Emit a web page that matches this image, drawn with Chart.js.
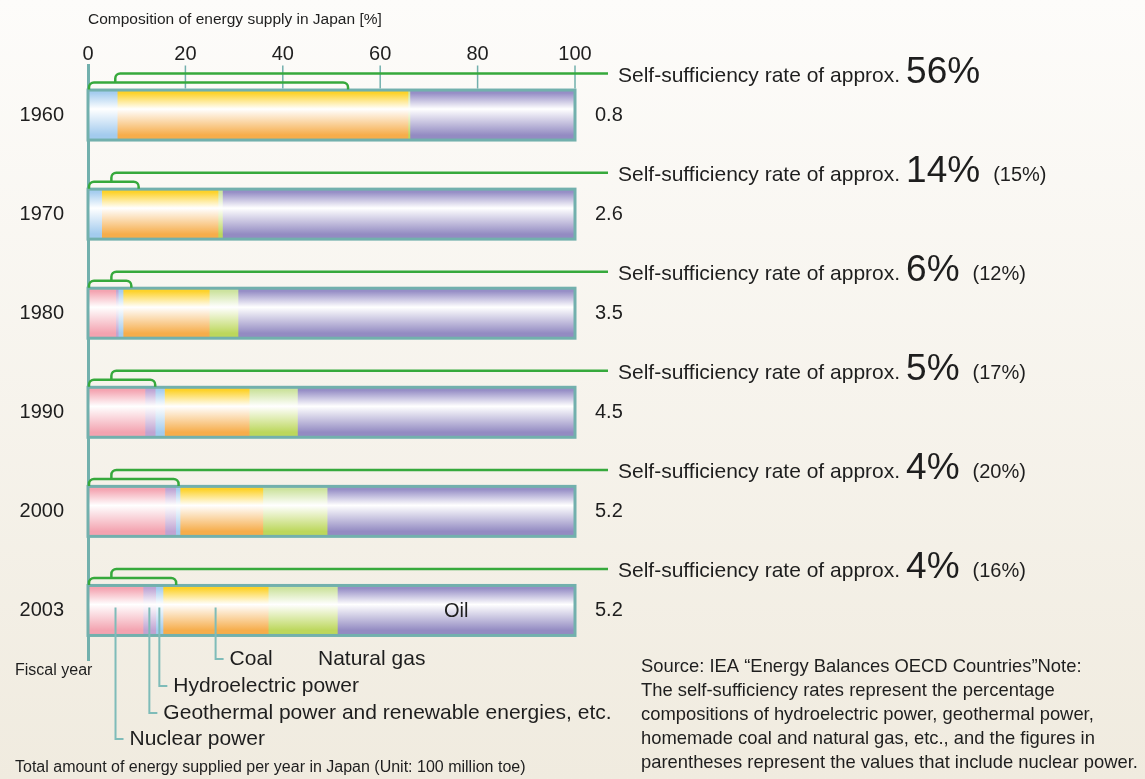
<!DOCTYPE html>
<html>
<head>
<meta charset="utf-8">
<script src="https://cdn.jsdelivr.net/npm/chart.js@4.4.0/dist/chart.umd.min.js"></script>
<style>
  html, body { margin: 0; padding: 0; }
  body { width: 1145px; height: 779px; overflow: hidden; background: linear-gradient(#fdfcfa, #f0ebdf); }
  #wrap { position: relative; width: 1145px; height: 779px; }
</style>
</head>
<body>
<div id="wrap"><canvas id="chart"></canvas></div>
<script>
// composition of energy supply, % of total
const years = ["1960", "1970", "1980", "1990", "2000", "2003"];
const nuclear    = [0, 0, 5.7, 11.7, 15.8, 11.3];
const geothermal = [0, 0, 0.5, 2.1, 2.2, 2.6];
const hydro      = [6.0, 2.8, 1.0, 1.9, 0.9, 1.5];
const coal       = [59.7, 23.9, 17.7, 17.4, 17.0, 21.6];
const gas        = [0.4, 0.9, 5.9, 9.9, 13.2, 14.2];
const oil        = [33.9, 72.4, 69.2, 57.0, 50.9, 48.8];

const totalSupply = ["0.8", "2.6", "3.5", "4.5", "5.2", "5.2"];
const selfRate = ["56%", "14%", "6%", "5%", "4%", "4%"];
const selfRateWithNuclear = ["", "(15%)", "(12%)", "(17%)", "(20%)", "(16%)"];
// green bracket over each bar: right end and tip, in % of the axis
const bracketEnd = [53.4, 10.4, 8.9, 13.8, 18.6, 18.1];
const bracketTip = [5.6, 4.8, 4.8, 4.8, 4.8, 4.8];
const xTicks = [0, 20, 40, 60, 80, 100];

const FONT = '"Liberation Sans", Arial, Helvetica, sans-serif';
const TEAL = "#72b0ad";
const GREEN = "#36a93c";
const INK = "#1e1e1e";
const BAR_H = 50;

function barFill(top, bottom) {
    return c => {
        const sy = c.chart.scales.y;
        if (!sy || c.dataIndex === undefined) return top;
        const yc = sy.getPixelForValue(c.dataIndex);
        if (!isFinite(yc)) return top;
        const g = c.chart.ctx.createLinearGradient(0, yc - BAR_H / 2, 0, yc + BAR_H / 2);
        g.addColorStop(0, top);
        g.addColorStop(0.06, top);
        g.addColorStop(0.38, "#ffffff");
        g.addColorStop(0.9, bottom);
        g.addColorStop(1, bottom);
        return g;
    };
}

function text(ctx, s, x, y, size, align, base) {
    ctx.font = `${size}px ${FONT}`;
    ctx.textAlign = align || "left";
    ctx.textBaseline = base || "alphabetic";
    ctx.fillText(s, x, y);
    return ctx.measureText(s).width;
}

const decorations = {
    id: "decorations",
    beforeDatasetsDraw(chart) {
        const { ctx, chartArea } = chart;
        const sx = chart.scales.x, sy = chart.scales.y;
        const firstTop = sy.getPixelForValue(0) - BAR_H / 2 - 1.5;
        ctx.save();
        ctx.strokeStyle = TEAL;
        ctx.lineWidth = 1.5;
        xTicks.slice(1).forEach(v => {
            const x = sx.getPixelForValue(v);
            ctx.beginPath();
            ctx.moveTo(x, chartArea.top);
            ctx.lineTo(x, firstTop);
            ctx.stroke();
        });
        ctx.restore();
    },
    afterDatasetsDraw(chart) {
        const { ctx } = chart;
        const sx = chart.scales.x, sy = chart.scales.y;
        const x0 = sx.getPixelForValue(0), x1 = sx.getPixelForValue(100);
        ctx.save();
        ctx.fillStyle = INK;
        years.forEach((yr, i) => {
            const yc = sy.getPixelForValue(i);
            // frame round the whole bar
            ctx.strokeStyle = TEAL;
            ctx.lineWidth = 3;
            ctx.strokeRect(x0, yc - BAR_H / 2, x1 - x0, BAR_H);

            // green brackets
            const T = yc - BAR_H / 2 - 1.5;
            const yl = T - 6, yu = T - 15, r = 5;
            const xe = sx.getPixelForValue(bracketEnd[i]);
            const xt = sx.getPixelForValue(bracketTip[i]);
            ctx.strokeStyle = GREEN;
            ctx.lineWidth = 2.5;
            ctx.beginPath();
            ctx.moveTo(x0 + 1, T + 1);
            ctx.arcTo(x0 + 1, yl, x0 + 1 + r, yl, r);
            ctx.lineTo(xe - r, yl);
            ctx.arcTo(xe, yl, xe, T + 1, r);
            ctx.lineTo(xe, T + 1);
            ctx.moveTo(xt, yl);
            ctx.arcTo(xt, yu, xt + r, yu, r);
            ctx.lineTo(608, yu);
            ctx.stroke();

            // rate texts
            let x = 618;
            const base = yu + 8;
            x += text(ctx, "Self-sufficiency rate of approx.", x, base, 21) + 6;
            x += text(ctx, selfRate[i], x, base + 1, 37) + 13;
            if (selfRateWithNuclear[i]) text(ctx, selfRateWithNuclear[i], x, base, 20);

            // total supply
            text(ctx, totalSupply[i], 595, yc, 20, "left", "middle");
        });

        // segment names on the last bar
        const last = years.length - 1;
        const yc = sy.getPixelForValue(last);
        const mid = (arrs) => {
            let s = 0;
            arrs.slice(0, -1).forEach(a => s += a[last]);
            return sx.getPixelForValue(s + arrs[arrs.length - 1][last] / 2);
        };
        text(ctx, "Oil", mid([nuclear, geothermal, hydro, coal, gas, oil]), yc + 1, 20, "center", "middle");
        const leaders = [
            { x: mid([nuclear]), y: 739, label: "Nuclear power" },
            { x: mid([nuclear, geothermal]), y: 713, label: "Geothermal power and renewable energies, etc." },
            { x: mid([nuclear, geothermal, hydro]), y: 686, label: "Hydroelectric power" },
            { x: mid([nuclear, geothermal, hydro, coal]), y: 659, label: "Coal" }
        ];
        ctx.strokeStyle = "#7fbcb9";
        ctx.lineWidth = 2;
        leaders.forEach(l => {
            ctx.beginPath();
            ctx.moveTo(l.x, yc - 3);
            ctx.lineTo(l.x, l.y);
            ctx.lineTo(l.x + 8, l.y);
            ctx.stroke();
            text(ctx, l.label, l.x + 14, l.y, 21, "left", "middle");
        });
        text(ctx, "Natural gas", 318, 659, 21, "left", "middle");

        text(ctx, "Fiscal year", 15, 671, 16, "left", "middle");
        text(ctx, "Total amount of energy supplied per year in Japan (Unit: 100 million toe)", 15, 768, 16, "left", "middle");
        const note = [
            "Source: IEA \u201cEnergy Balances OECD Countries\u201dNote:",
            "The self-sufficiency rates represent the percentage",
            "compositions of hydroelectric power, geothermal power,",
            "homemade coal and natural gas, etc., and the figures in",
            "parentheses represent the values that include nuclear power."
        ];
        note.forEach((s, k) => text(ctx, s, 641, 667 + k * 24, 18.4, "left", "middle"));
        ctx.restore();
    }
};

const series = [
    { label: "Nuclear power", data: nuclear, top: "#f4a4b1", bottom: "#f3a3b0" },
    { label: "Geothermal power and renewable energies, etc.", data: geothermal, top: "#bea5d4", bottom: "#c0a4d2" },
    { label: "Hydroelectric power", data: hydro, top: "#a6cdef", bottom: "#a3cbee" },
    { label: "Coal", data: coal, top: "#fdd22a", bottom: "#f6ad4b" },
    { label: "Natural gas", data: gas, top: "#cde39f", bottom: "#bcd75c" },
    { label: "Oil", data: oil, top: "#968ec6", bottom: "#938bc2" }
];

new Chart(document.getElementById("chart"), {
    type: "bar",
    data: {
        labels: years,
        datasets: series.map(s => ({
            label: s.label, data: s.data, backgroundColor: barFill(s.top, s.bottom),
            borderWidth: 0, barThickness: BAR_H
        }))
    },
    options: {
        indexAxis: "y", responsive: true, maintainAspectRatio: false, animation: false, events: [],
        layout: { padding: { left: 0, right: 570, top: 0, bottom: 119 } },
        plugins: { legend: { display: false }, tooltip: { enabled: false } },
        scales: {
            x: {
                position: "top", stacked: true, min: 0, max: 100,
                afterBuildTicks: s => { s.ticks = xTicks.map(v => ({ value: v })); },
                afterFit: s => { s.height = 65.5; },
                ticks: { font: { family: FONT, size: 20 }, color: INK, padding: -1, maxRotation: 0 },
                grid: { display: false, drawTicks: false },
                border: { display: false },
                title: {
                    display: true, text: "Composition of energy supply in Japan [%]", align: "start",
                    font: { family: FONT, size: 15.5 }, color: INK, padding: { top: 10, bottom: 0 }
                }
            },
            y: {
                stacked: true,
                afterFit: s => { s.width = 88; },
                ticks: { font: { family: FONT, size: 20 }, color: INK, padding: 24 },
                grid: { display: false, drawTicks: false },
                border: { display: true, color: TEAL, width: 3 }
            }
        }
    },
    plugins: [decorations]
});
</script>
</body>
</html>
